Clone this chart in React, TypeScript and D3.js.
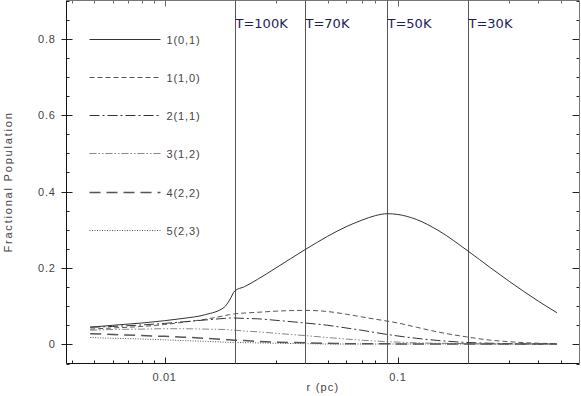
import React, { useEffect, useRef } from 'react';
import * as d3 from 'd3';

// radius grid (pc) and fractional populations
const radius = [0.0048, 0.006, 0.008, 0.01, 0.012, 0.015, 0.018, 0.019, 0.02, 0.022, 0.025, 0.03, 0.04, 0.05, 0.06, 0.07, 0.08, 0.09, 0.1, 0.12, 0.15, 0.2, 0.25, 0.3, 0.4, 0.48];

const pop01 = [0.045, 0.05, 0.056, 0.062, 0.068, 0.078, 0.097, 0.116, 0.14, 0.151, 0.17, 0.2, 0.248, 0.283, 0.308, 0.325, 0.337, 0.342, 0.34, 0.327, 0.297, 0.244, 0.2, 0.165, 0.113, 0.083];
const pop10 = [0.04, 0.043, 0.047, 0.052, 0.058, 0.066, 0.075, 0.078, 0.08, 0.082, 0.084, 0.087, 0.089, 0.086, 0.079, 0.072, 0.066, 0.061, 0.056, 0.045, 0.032, 0.019, 0.011, 0.007, 0.003, 0.002];
const pop11 = [0.045, 0.047, 0.051, 0.055, 0.059, 0.064, 0.068, 0.069, 0.069, 0.068, 0.067, 0.063, 0.056, 0.05, 0.043, 0.037, 0.031, 0.026, 0.022, 0.016, 0.01, 0.005, 0.003, 0.002, 0.001, 0.001];
const pop12 = [0.037, 0.039, 0.04, 0.041, 0.041, 0.04, 0.039, 0.038, 0.037, 0.035, 0.033, 0.029, 0.023, 0.018, 0.014, 0.011, 0.009, 0.007, 0.006, 0.004, 0.003, 0.002, 0.001, 0.001, 0.001, 0.001];
const pop22 = [0.028, 0.026, 0.023, 0.021, 0.019, 0.016, 0.013, 0.012, 0.011, 0.01, 0.008, 0.006, 0.004, 0.003, 0.002, 0.002, 0.002, 0.002, 0.001, 0.001, 0.001, 0.001, 0.001, 0.001, 0.001, 0.001];
const pop23 = [0.018, 0.016, 0.014, 0.012, 0.01, 0.008, 0.006, 0.0055, 0.005, 0.0045, 0.004, 0.003, 0.002, 0.001, 0.001, 0.001, 0.001, 0.001, 0.001, 0.001, 0.001, 0.001, 0.001, 0.001, 0.001, 0.001];

const seriesNames = ['1(0,1)', '1(1,0)', '2(1,1)', '3(1,2)', '4(2,2)', '5(2,3)'];
const seriesValues = [pop01, pop10, pop11, pop12, pop22, pop23];
const legendLevels = [0.8, 0.7, 0.6, 0.5, 0.4, 0.3];

const tempRadius = [0.02, 0.04, 0.09, 0.2];
const tempLabels = ['T=100K', 'T=70K', 'T=50K', 'T=30K'];

const yMajor = [0, 0.2, 0.4, 0.6, 0.8];
const xMajor = [0.01, 0.1];

const styles = [
  { dash: null, width: 1, color: '#333' },
  { dash: '5,3', width: 1, color: '#555' },
  { dash: '10,3,2,3', width: 1, color: '#333' },
  { dash: '7,2,1.5,2,1.5,2', width: 0.8, color: '#666' },
  { dash: '11,6', width: 1.5, color: '#555' },
  { dash: '1,1.5', width: 1, color: '#555' },
];

const W = 581;
const H = 396;

const App = () => {
  const svgRef = useRef(null);

  useEffect(() => {
    const svg = d3.select(svgRef.current);
    svg.selectAll('*').remove();

    const left = 66.5, right = 579.5, top = 0.5, bottom = 363.5;

    const x = d3.scaleLog().domain([0.0038, 0.6]).range([left, right]);
    const y = d3.scaleLinear().domain([-0.05, 0.9]).range([bottom, top]);

    const labelFont = 'Liberation Sans, Arial, sans-serif';

    // minor ticks
    const xMinor = [];
    [0.001, 0.01, 0.1].forEach(dec => {
      for (let k = 1; k <= 9; k++) {
        const v = +(dec * k).toPrecision(3);
        if (v > 0.0038 && v < 0.6) xMinor.push(v);
      }
    });
    const yMinor = d3.range(-0.05, 0.9001, 0.05).map(v => +v.toFixed(2));

    const ticks = svg.append('g').attr('stroke', '#222').attr('stroke-width', 1);

    xMinor.forEach(v => {
      const major = xMajor.includes(v);
      const len = major ? 6 : 3;
      const px = Math.round(x(v)) + 0.5;
      ticks.append('line').attr('x1', px).attr('x2', px).attr('y1', bottom).attr('y2', bottom - len);
      ticks.append('line').attr('x1', px).attr('x2', px).attr('y1', top).attr('y2', top + len).attr('stroke', '#666');
    });

    yMinor.forEach(v => {
      const major = yMajor.some(m => Math.abs(m - v) < 1e-6);
      const py = Math.round(y(v)) + 0.5;
      if (major) {
        ticks.append('line').attr('x1', left - 5).attr('x2', left + 6).attr('y1', py).attr('y2', py);
        ticks.append('line').attr('x1', right).attr('x2', right - 7).attr('y1', py).attr('y2', py);
      } else {
        ticks.append('line').attr('x1', left).attr('x2', left + 3).attr('y1', py).attr('y2', py);
        ticks.append('line').attr('x1', right).attr('x2', right - 3).attr('y1', py).attr('y2', py);
      }
    });

    // frame
    svg.append('path')
      .attr('d', `M${left},${top}V${bottom}H${right}`)
      .attr('fill', 'none')
      .attr('stroke', '#111');
    svg.append('path')
      .attr('d', `M${left},${top}H${right}V${bottom}`)
      .attr('fill', 'none')
      .attr('stroke', '#777');

    // tick labels
    yMajor.forEach(v => {
      svg.append('text')
        .attr('x', left - 11)
        .attr('y', y(v) + 4)
        .attr('text-anchor', 'end')
        .style('font-family', labelFont)
        .style('font-size', '11px')
        .style('letter-spacing', '0.7px')
        .attr('fill', '#444')
        .text(v === 0 ? '0' : String(v));
    });

    xMajor.forEach(v => {
      svg.append('text')
        .attr('x', x(v))
        .attr('y', 381)
        .attr('text-anchor', 'middle')
        .style('font-family', labelFont)
        .style('font-size', '11px')
        .style('letter-spacing', '0.7px')
        .attr('fill', '#444')
        .text(String(v));
    });

    svg.append('text')
      .attr('x', (left + right) / 2)
      .attr('y', 391)
      .attr('text-anchor', 'middle')
      .style('font-family', labelFont)
      .style('font-size', '11px')
      .style('letter-spacing', '1.2px')
      .attr('fill', '#444')
      .text('r (pc)');

    svg.append('text')
      .attr('transform', `translate(12,${(top + bottom) / 2}) rotate(-90)`)
      .attr('text-anchor', 'middle')
      .style('font-family', labelFont)
      .style('font-size', '11px')
      .style('letter-spacing', '1.8px')
      .attr('fill', '#444')
      .text('Fractional Population');

    // temperature markers
    tempRadius.forEach((r, i) => {
      const px = Math.round(x(r)) + 0.5;
      svg.append('line')
        .attr('x1', px).attr('x2', px)
        .attr('y1', top).attr('y2', bottom)
        .attr('stroke', '#555')
        .attr('stroke-width', 1);
      svg.append('text')
        .attr('x', px)
        .attr('y', top + 27)
        .style('font-family', 'DejaVu Sans, sans-serif')
        .style('font-size', '13px')
        .attr('fill', '#1c1c60')
        .text(tempLabels[i]);
    });

    // curves
    const lineGen = d3.line()
      .x(d => x(d[0]))
      .y(d => y(d[1]))
      .curve(d3.curveMonotoneX);

    seriesValues.forEach((vals, i) => {
      const st = styles[i];
      svg.append('path')
        .datum(radius.map((r, j) => [r, vals[j]]))
        .attr('fill', 'none')
        .attr('stroke', st.color)
        .attr('stroke-width', st.width)
        .attr('stroke-dasharray', st.dash)
        .attr('d', lineGen);

      const ly = Math.round(y(legendLevels[i])) + 0.5;
      svg.append('line')
        .attr('x1', left + 23).attr('x2', left + 94)
        .attr('y1', ly).attr('y2', ly)
        .attr('stroke', st.color)
        .attr('stroke-width', st.width)
        .attr('stroke-dasharray', st.dash);
      svg.append('text')
        .attr('x', left + 100)
        .attr('y', ly + 4)
        .style('font-family', labelFont)
        .style('font-size', '11px')
        .style('letter-spacing', '0.9px')
        .attr('fill', '#444')
        .text(seriesNames[i]);
    });
  }, []);

  return (
    <svg
      ref={svgRef}
      width={W}
      height={H}
      style={{ position: 'absolute', left: 0, top: 0, background: '#fff' }}
    />
  );
};

export default App;
